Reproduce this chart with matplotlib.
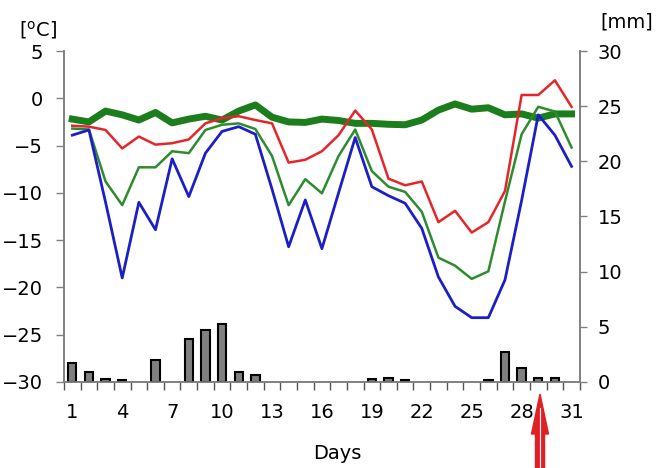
import numpy as np
import matplotlib
matplotlib.use("Agg")
import matplotlib.pyplot as plt
from matplotlib.patches import FancyArrow

plt.rcParams["font.family"] = ["DejaVu Sans"]

days = np.arange(1, 32)

# temperatures [°C]
t_blue = [-3.9, -3.35, -11.0, -19.0, -11.0, -13.9, -6.4, -10.4, -5.8, -3.5,
          -3.0, -3.8, -9.6, -15.7, -10.75, -15.9, -10.0, -4.15, -9.35, -10.3,
          -11.1, -13.75, -18.9, -22.0, -23.2, -23.2, -19.2, -10.8, -1.75, -3.9,
          -7.2]
t_red = [-2.9, -3.0, -3.35, -5.3, -4.05, -4.9, -4.75, -4.35, -2.65, -2.1,
         -1.9, -2.3, -2.65, -6.8, -6.5, -5.6, -3.9, -1.3, -3.3, -8.5,
         -9.2, -8.8, -13.1, -11.9, -14.2, -13.1, -9.8, 0.35, 0.35, 1.9,
         -0.9]
t_green = [-3.2, -3.3, -8.8, -11.3, -7.3, -7.3, -5.6, -5.8, -3.35, -2.8,
           -2.65, -3.25, -6.1, -11.3, -8.55, -10.05, -6.1, -3.3, -7.7, -9.35,
           -9.9, -12.0, -16.85, -17.7, -19.1, -18.3, -10.9, -3.8, -0.9, -1.4,
           -5.2]
t_thick = [-2.2, -2.5, -1.35, -1.75, -2.3, -1.5, -2.6, -2.2, -1.9, -2.3,
           -1.35, -0.7, -2.0, -2.5, -2.55, -2.2, -2.35, -2.65, -2.65, -2.75,
           -2.8, -2.3, -1.25, -0.6, -1.15, -1.0, -1.75, -1.65, -2.1, -1.65,
           -1.65]

# precipitation [mm]
precip = np.array([1.7, 0.9, 0.3, 0.2, 0, 2.0, 0, 3.9, 4.7, 5.3,
                   0.9, 0.6, 0, 0, 0, 0, 0, 0, 0.3, 0.4,
                   0.2, 0, 0, 0, 0, 0.2, 2.75, 1.3, 0.4, 0.4,
                   0])

spine_c = "#808080"
fs = 14

fig = plt.figure(figsize=(6.65, 4.68), dpi=100)
ax = fig.add_axes([0.0962, 0.1838, 0.7758, 0.7072])
ax2 = ax.twinx()

ax.plot(days, t_thick, color="#1b7d1b", lw=5, solid_joinstyle="round", zorder=3)
ax.plot(days, t_red, color="#e6252a", lw=1.8, zorder=4)
ax.plot(days, t_green, color="#2e8b2e", lw=1.8, zorder=4)
ax.plot(days, t_blue, color="#1c1fc4", lw=2, zorder=5)

wet = precip > 0
ax2.bar(days[wet], precip[wet], width=0.5, color="#808080",
        edgecolor="black", linewidth=1.5)

ax.set_xlim(0.5, 31.5)
ax.set_ylim(-30, 5)
ax2.set_ylim(0, 30)

ax.set_yticks(np.arange(-30, 6, 5))
ax2.set_yticks(np.arange(0, 31, 5))
ax.set_xticks(np.arange(1, 32, 3))
ax.set_xticks(np.arange(0.5, 32, 1), minor=True)

for a in (ax, ax2):
    a.spines["top"].set_visible(False)
    for s in ("left", "right", "bottom"):
        a.spines[s].set_color(spine_c)
        a.spines[s].set_linewidth(1.2)

ax.tick_params(axis="x", which="major", length=0, pad=15, labelsize=fs)
ax.tick_params(axis="x", which="minor", length=6, width=1, color="#555555")
ax.tick_params(axis="y", length=6, width=1, color=spine_c, pad=9, labelsize=fs)
ax2.tick_params(axis="y", length=5, width=1, color=spine_c, pad=8, labelsize=fs)

fig.text(0.028, 0.912, r"[$\mathregular{^o}$C]", fontsize=fs, ha="left", va="bottom")
fig.text(0.903, 0.933, "[mm]", fontsize=fs, ha="left", va="bottom")
fig.text(0.507, 0.032, "Days", fontsize=fs, ha="center", va="center")

# red arrow under day 29
fig.add_artist(FancyArrow(5.40, 0.0, 0, 0.74, width=0.09, head_width=0.17,
                          head_length=0.40, length_includes_head=True,
                          color="#e01f26", transform=fig.dpi_scale_trans))
fig.add_artist(plt.Line2D([5.40, 5.40], [0.0, 0.60], color="white", lw=0.8,
                          transform=fig.dpi_scale_trans))

fig.savefig("out.png", dpi=100)
